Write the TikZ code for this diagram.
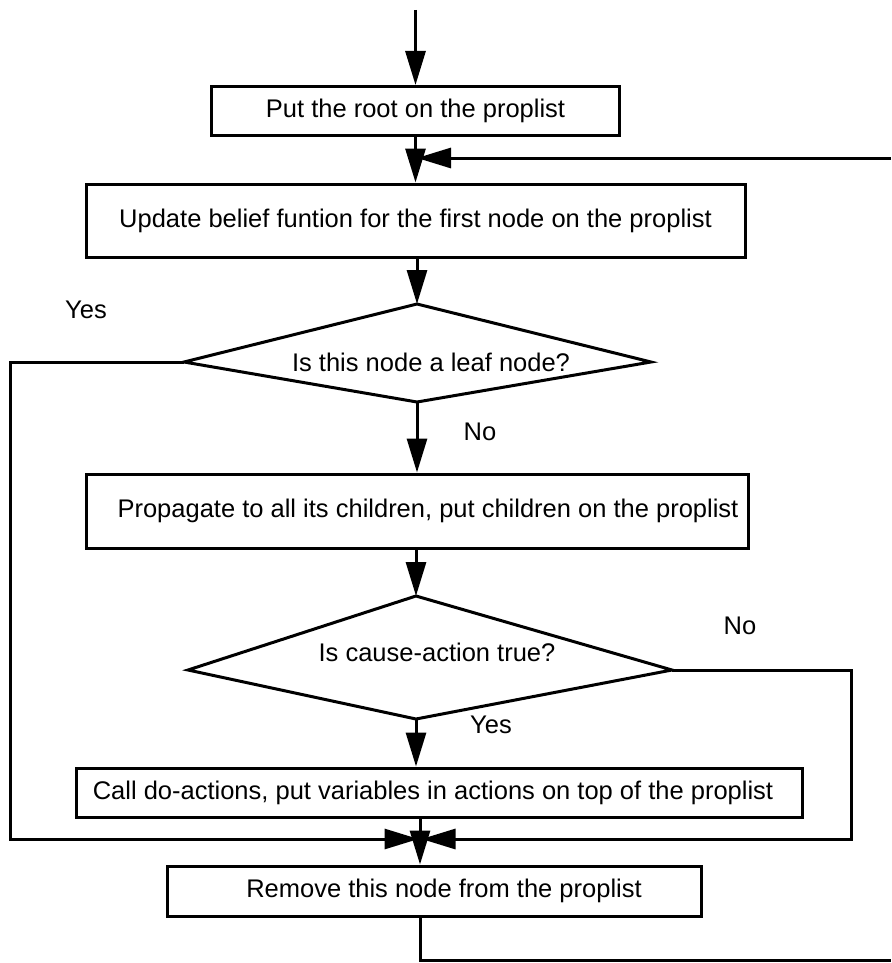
\documentclass[tikz,border=0pt]{standalone}
\usepackage{fontspec}
\setmainfont{Liberation Sans}
\usetikzlibrary{arrows.meta}
\begin{document}
\begin{tikzpicture}[x=1pt,y=-1pt,
  every node/.style={font=\fontsize{25.5}{30}\selectfont, inner sep=0pt},
  box/.style={draw, line width=3pt},
  outline/.style={draw, line width=3pt, line join=miter},
  conn/.style={line width=3pt},
  arr/.style={line width=3pt, -{Triangle[length=34pt,width=20pt]}}]
\useasboundingbox (0,0) rectangle (891,963);
% boxes
\node[box,minimum width=408pt,minimum height=49pt] (b1) at (415.5,111) {Put the root on the proplist};
\node[box,minimum width=659pt,minimum height=73pt] (b2) at (415.5,220.5) {Update belief funtion for the first node on the proplist};
\node[box,minimum width=662pt,minimum height=74pt] (b3) at (417,511) {\hspace*{22pt}Propagate to all its children, put children on the proplist};
\node[box,minimum width=726pt,minimum height=49pt] (b4) at (439,792.5) {Call do-actions, put variables in actions on top of the proplist\hspace*{12pt}};
\node[box,minimum width=534pt,minimum height=50pt] (b5) at (434,891) {\hspace*{20pt}Remove this node from the proplist};
% diamond 1
\coordinate (d1t) at (417,304);
\coordinate (d1r) at (651,362);
\coordinate (d1b) at (417,402);
\coordinate (d1l) at (184,362);
\draw[outline] (d1t) -- (d1r) -- (d1b) -- (d1l) -- cycle;
\node (q1) at (431,362) {Is this node a leaf node?};
% diamond 2
\coordinate (d2t) at (416,596);
\coordinate (d2r) at (672,670);
\coordinate (d2b) at (416,719);
\coordinate (d2l) at (188,670);
\draw[outline] (d2t) -- (d2r) -- (d2b) -- (d2l) -- cycle;
\node (q2) at (437,652) {Is cause-action true?};
% labels
\node (yes1) at (86,310) {Yes};
\node (no1) at (480,432) {No};
\node (no2) at (740,626) {No};
\node (yes2) at (491,725) {Yes};
% helper coordinates
\coordinate (start) at (415.5,10);
\coordinate (fbR) at (891,158);
\coordinate (fbL) at (417,158);
\coordinate (spine) at (420,839);
\coordinate (mL) at (418.5,839);
\coordinate (mR) at (421.5,839);
\coordinate (lx) at (10,0);
\coordinate (rx) at (851,0);
\coordinate (exit) at (891,960);
% connectors
\draw[arr] (start) -- (b1.north -| start);
\draw[arr] (b1.south -| start) -- (b2.north -| start);
\draw[arr] (fbR) -- (fbL);
\draw[arr] (b2.south -| d1t) -- (d1t);
\draw[arr] (d1b) -- (d1b |- b3.north);
\draw[arr] (b3.south -| d2t) -- (d2t);
\draw[arr] (d2b) -- (d2b |- b4.north);
\draw[arr] (d1l) -- (d1l -| lx) |- (mL);
\draw[arr] (d2r) -- (d2r -| rx) |- (mR);
\draw[arr] (b4.south -| spine) -- (b5.north -| spine);
\draw[conn] (b5.south -| spine) |- (exit);
\end{tikzpicture}
\end{document}
